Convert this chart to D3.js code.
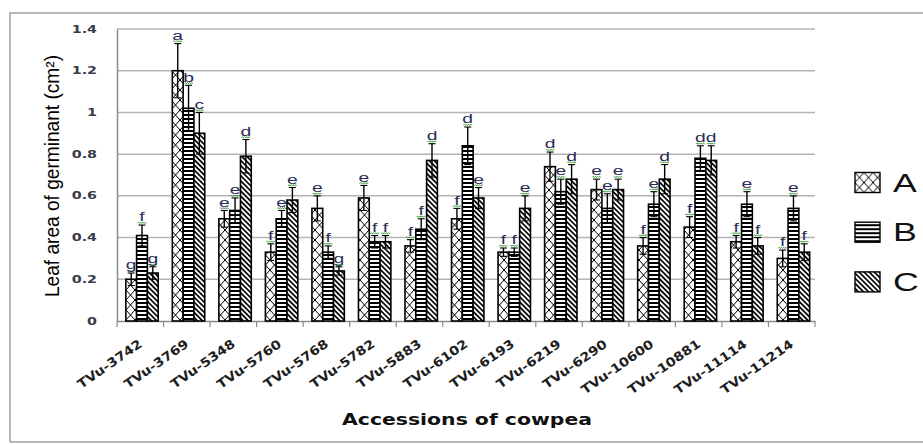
<!DOCTYPE html>
<html><head><meta charset="utf-8">
<script src="https://cdn.jsdelivr.net/npm/d3@7"></script>
<style>html,body{margin:0;padding:0;background:#fff;overflow:hidden}svg{display:block}</style>
</head><body><svg id="chart"></svg>
<script>
// ---------- data ----------
const categories = ["TVu-3742","TVu-3769","TVu-5348","TVu-5760","TVu-5768","TVu-5782","TVu-5883","TVu-6102","TVu-6193","TVu-6219","TVu-6290","TVu-10600","TVu-10881","TVu-11114","TVu-11214"];
const seriesNames = ["A","B","C"];
const valuesA = [0.20,1.20,0.49,0.33,0.54,0.59,0.36,0.49,0.33,0.74,0.63,0.36,0.45,0.38,0.30];
const valuesB = [0.41,1.02,0.53,0.49,0.33,0.38,0.44,0.84,0.33,0.62,0.54,0.56,0.78,0.56,0.54];
const valuesC = [0.23,0.90,0.79,0.58,0.24,0.38,0.77,0.59,0.54,0.68,0.63,0.68,0.77,0.36,0.33];
const errorsA = [0.03,0.13,0.04,0.04,0.06,0.06,0.03,0.05,0.02,0.07,0.05,0.04,0.05,0.03,0.04];
const errorsB = [0.05,0.11,0.06,0.04,0.03,0.03,0.05,0.09,0.02,0.06,0.07,0.06,0.06,0.06,0.06];
const errorsC = [0.03,0.10,0.08,0.06,0.02,0.03,0.08,0.05,0.06,0.07,0.05,0.07,0.07,0.04,0.04];
const lettersA = ["g","a","e","f","e","e","f","f","f","d","e","f","f","f","f"];
const lettersB = ["f","b","e","e","f","f","f","d","f","e","e","e","d","e","e"];
const lettersC = ["g","c","d","e","g","f","d","e","e","d","e","d","d","f","f"];
const yTicks = [0,0.2,0.4,0.6,0.8,1,1.2,1.4];
const yTitle = "Leaf area of germinant (cm²)";
const xTitle = "Accessions of cowpea";

// ---------- layout ----------
const S = 1.43;   // the picture's text is horizontally stretched
const svg = d3.select("#chart").attr("width", 923).attr("height", 444);

const values = [valuesA, valuesB, valuesC];
const errors = [errorsA, errorsB, errorsC];
const letters = [lettersA, lettersB, lettersC];

const x = d3.scaleBand().domain(categories).range([117, 815]).padding(0);
const bw = x.bandwidth();
const xs = d3.scaleBand().domain(seriesNames).range([8.8, 8.8 + 32.4]).padding(0);
const y = d3.scaleLinear().domain([0, 1.4]).range([321, 29]);

// move an element's group so its bounding box edge lands on a target
function snap(g, right, top) {
  const r = g.node().getBoundingClientRect();
  const dx = right == null ? 0 : right - r.right;
  const dy = top == null ? 0 : top - r.top;
  g.attr("transform", `translate(${dx},${dy})`);
}

// ---------- patterns ----------
const defs = svg.append("defs");
const pA = defs.append("pattern").attr("id","patA").attr("patternUnits","userSpaceOnUse")
  .attr("width", 9).attr("height", 10);
pA.append("rect").attr("width",9).attr("height",10).attr("fill","#fff");
pA.append("path").attr("d","M0,0 L9,10 M9,0 L0,10").attr("stroke","#000").attr("stroke-width",1).attr("fill","none");
const pB = defs.append("pattern").attr("id","patB").attr("patternUnits","userSpaceOnUse")
  .attr("width", 4).attr("height", 4);
pB.append("rect").attr("width",4).attr("height",4).attr("fill","#fff");
pB.append("rect").attr("y",2).attr("width",4).attr("height",2).attr("fill","#000");
const pC = defs.append("pattern").attr("id","patC").attr("patternUnits","userSpaceOnUse")
  .attr("width", 3.6).attr("height", 3.6).attr("patternTransform","rotate(45)");
pC.append("rect").attr("width",3.6).attr("height",3.6).attr("fill","#fff");
pC.append("rect").attr("width",3.6).attr("height",1.7).attr("fill","#000");
const fills = {A:"url(#patA)", B:"url(#patB)", C:"url(#patC)"};

// ---------- frame ----------
svg.append("rect").attr("x", 10).attr("y", 13).attr("width", 930).attr("height", 429)
  .attr("fill","none").attr("stroke","#8c8c8c").attr("stroke-width",1.2);

// gridlines
svg.append("g").selectAll("line").data(yTicks.filter(d => d > 0)).join("line")
  .attr("x1", 117).attr("x2", 815)
  .attr("y1", d => y(d)).attr("y2", d => y(d))
  .attr("stroke","#b4b4b4").attr("stroke-width",1.5);

// y axis
const yAxis = svg.append("g").attr("transform", `translate(117,0)`)
  .call(d3.axisLeft(y).tickValues(yTicks).tickSize(0).tickFormat(""));
yAxis.select(".domain").attr("stroke","#8c8c8c").attr("stroke-width",1.5);
svg.append("g").selectAll("text").data(yTicks).join("text")
  .attr("transform", d => `translate(97,${y(d) + 3.6}) scale(${S},1)`)
  .attr("text-anchor","end")
  .attr("font-family","DejaVu Sans").attr("font-weight","bold").attr("font-size",10)
  .attr("fill","#3a3a4a")
  .text(d => String(d));

// x axis
const xAxis = svg.append("g").attr("transform", `translate(0,321)`)
  .call(d3.axisBottom(x).tickSize(0).tickFormat(""));
xAxis.select(".domain").attr("stroke","#8c8c8c").attr("stroke-width",1.5);
xAxis.selectAll(".tick").remove();
svg.append("g").selectAll("line").data(d3.range(categories.length + 1)).join("line")
  .attr("x1", i => 117 + i*bw).attr("x2", i => 117 + i*bw)
  .attr("y1", 321).attr("y2", 327).attr("stroke","#8c8c8c").attr("stroke-width",1.2);

// x tick labels (rotated), each snapped so its top-right corner sits under its tick
const xlg = svg.append("g").selectAll("g").data(categories).join("g");
xlg.append("text")
  .attr("transform", d => `translate(${x(d) + bw/2 + 4},343) rotate(-35)`)
  .attr("text-anchor","end")
  .attr("font-family","DejaVu Sans").attr("font-weight","bold").attr("font-size",12.5)
  .attr("fill","#1e1e1e")
  .text(d => d)
  .each(function() {
    const L = this.getComputedTextLength();
    d3.select(this).attr("textLength", L * 1.13).attr("lengthAdjust","spacingAndGlyphs");
  });
xlg.each(function(d) { snap(d3.select(this), x(d) + bw/2 + 4.5, 336); });

// ---------- bars ----------
const flat = [];
categories.forEach((c, i) => seriesNames.forEach((s, k) => {
  flat.push({cat:c, ser:s, v:values[k][i], e:errors[k][i], l:letters[k][i]});
}));
svg.append("g").selectAll("rect").data(flat).join("rect")
  .attr("x", d => x(d.cat) + xs(d.ser))
  .attr("y", d => y(d.v))
  .attr("width", xs.bandwidth())
  .attr("height", d => y(0) - y(d.v))
  .attr("fill", d => fills[d.ser])
  .attr("stroke","#000").attr("stroke-width",1.6);

// error bars
const eg = svg.append("g").attr("stroke","#000");
const cx = d => x(d.cat) + xs(d.ser) + xs.bandwidth()/2;
eg.selectAll("line.v").data(flat).join("line").attr("class","v")
  .attr("x1", cx).attr("x2", cx)
  .attr("y1", d => y(d.v - d.e)).attr("y2", d => y(d.v + d.e)).attr("stroke-width",1.4);
eg.selectAll("line.t").data(flat).join("line").attr("class","t")
  .attr("x1", d => cx(d) - 3.5).attr("x2", d => cx(d) + 3.5)
  .attr("y1", d => y(d.v + d.e)).attr("y2", d => y(d.v + d.e)).attr("stroke-width",1.1);
eg.selectAll("line.b").data(flat).join("line").attr("class","b")
  .attr("x1", d => cx(d) - 3.5).attr("x2", d => cx(d) + 3.5)
  .attr("y1", d => y(d.v - d.e)).attr("y2", d => y(d.v - d.e)).attr("stroke-width",1.1);

// squiggles + letters
const squig = d => {
  const x0 = cx(d) - 4.5, yy = y(d.v + d.e) - 1.8;
  let p = `M${x0},${yy}`;
  for (let i = 1; i <= 8; i++) p += ` L${x0 + i*1.1},${yy + (i % 2 ? -1.1 : 0.3)}`;
  return p;
};
svg.append("g").selectAll("path").data(flat).join("path")
  .attr("d", squig).attr("fill","none").attr("stroke","#3aa03a").attr("stroke-width",0.9);
svg.append("g").selectAll("text").data(flat).join("text")
  .attr("transform", d => `translate(${cx(d)},${y(d.v + d.e) - 3.8}) scale(${S},1)`)
  .attr("text-anchor","middle")
  .attr("font-family","Liberation Sans").attr("font-size",13.5)
  .attr("fill","#2c2c58")
  .text(d => d.l);

// ---------- titles ----------
const ytg = svg.append("g");
ytg.append("text")
  .attr("transform", `translate(59,176) rotate(-90)`)
  .attr("text-anchor","middle")
  .attr("font-family","Liberation Sans").attr("font-size",19.5)
  .attr("textLength",242).attr("lengthAdjust","spacingAndGlyphs")
  .attr("fill","#000")
  .text(yTitle);
snap(ytg, 63, 55);

svg.append("text")
  .attr("transform", `translate(467,425) scale(${S},1)`)
  .attr("text-anchor","middle")
  .attr("font-family","DejaVu Sans").attr("font-weight","bold").attr("font-size",15)
  .attr("textLength", 250 / S).attr("lengthAdjust","spacingAndGlyphs")
  .attr("fill","#111")
  .text(xTitle);

// ---------- legend ----------
const lg = svg.append("g").selectAll("g").data(seriesNames).join("g")
  .attr("transform", (d,i) => `translate(855,${172.5 + i*49.7})`);
lg.append("rect").attr("width", 25).attr("height", 20)
  .attr("fill", d => fills[d]).attr("stroke","#000").attr("stroke-width",1.4);
lg.append("text").attr("transform", `translate(38,19) scale(${S},1)`)
  .attr("font-family","Liberation Sans").attr("font-size",25).attr("fill","#111")
  .text(d => d);
</script>
</body></html>
